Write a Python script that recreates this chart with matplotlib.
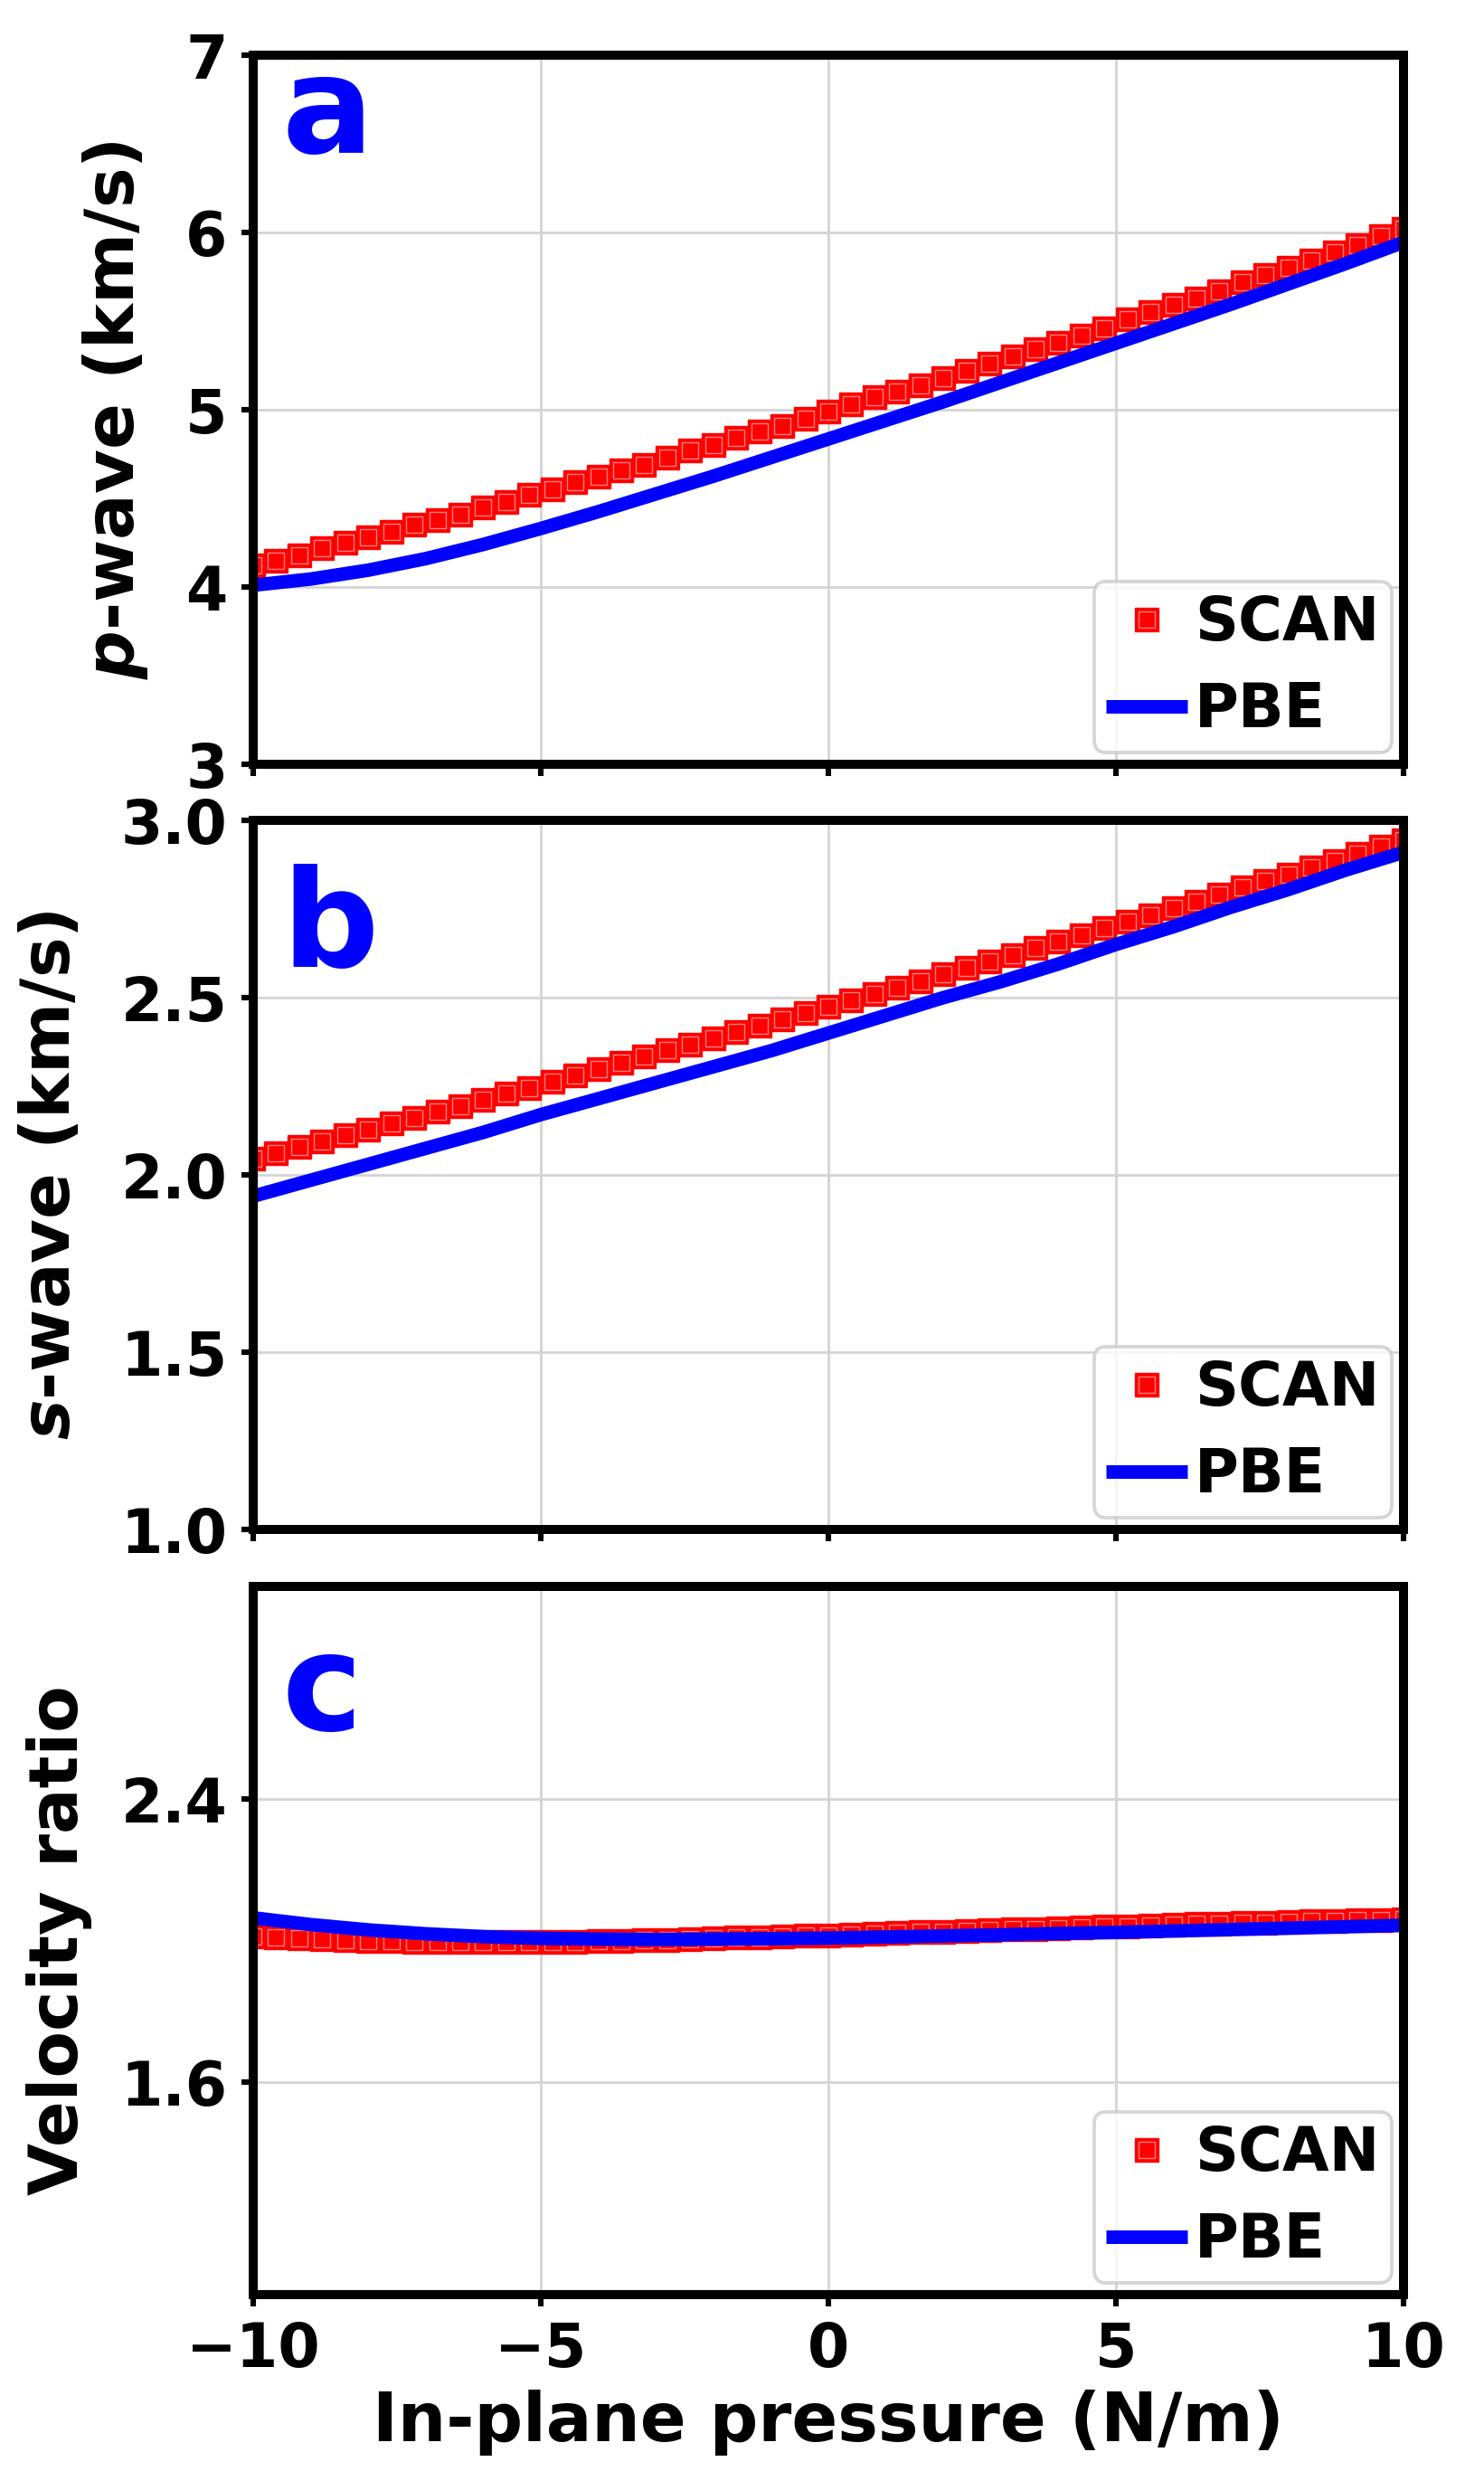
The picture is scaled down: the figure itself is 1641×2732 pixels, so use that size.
import matplotlib
matplotlib.use("Agg")
import matplotlib.pyplot as plt

plt.rcParams['font.family'] = ['DejaVu Sans']
plt.rcParams['font.weight'] = 'bold'
plt.rcParams['mathtext.fontset'] = 'custom'
plt.rcParams['mathtext.it'] = 'DejaVu Sans:bold:italic'
plt.rcParams['mathtext.rm'] = 'DejaVu Sans:bold'

# ---------------- data ----------------
pressure_scan = [-10.0, -9.6, -9.2, -8.8, -8.4, -8.0, -7.6, -7.2, -6.8, -6.4,
                 -6.0, -5.6, -5.2, -4.8, -4.4, -4.0, -3.6, -3.2, -2.8, -2.4,
                 -2.0, -1.6, -1.2, -0.8, -0.4, 0.0, 0.4, 0.8, 1.2, 1.6,
                 2.0, 2.4, 2.8, 3.2, 3.6, 4.0, 4.4, 4.8, 5.2, 5.6,
                 6.0, 6.4, 6.8, 7.2, 7.6, 8.0, 8.4, 8.8, 9.2, 9.6, 10.0]

pwave_scan = [4.12, 4.15, 4.18, 4.22, 4.25, 4.28, 4.31, 4.35, 4.38, 4.41,
              4.45, 4.48, 4.52, 4.55, 4.59, 4.62, 4.66, 4.69, 4.73, 4.77,
              4.80, 4.84, 4.88, 4.91, 4.95, 4.99, 5.03, 5.07, 5.10, 5.14,
              5.18, 5.22, 5.26, 5.30, 5.34, 5.38, 5.42, 5.46, 5.51, 5.55,
              5.59, 5.63, 5.67, 5.72, 5.76, 5.80, 5.84, 5.89, 5.93, 5.98, 6.02]

swave_scan = [2.045, 2.061, 2.078, 2.095, 2.111, 2.128, 2.145, 2.161, 2.178, 2.195,
              2.212, 2.229, 2.246, 2.264, 2.281, 2.298, 2.316, 2.333, 2.351, 2.368,
              2.386, 2.404, 2.421, 2.439, 2.457, 2.475, 2.493, 2.511, 2.529, 2.547,
              2.566, 2.584, 2.603, 2.621, 2.640, 2.658, 2.677, 2.696, 2.715, 2.733,
              2.752, 2.771, 2.790, 2.810, 2.829, 2.848, 2.867, 2.886, 2.906, 2.925, 2.945]

ratio_scan = [2.012, 2.009, 2.006, 2.004, 2.002, 2.000, 1.998, 1.997, 1.996, 1.995,
              1.995, 1.995, 1.995, 1.996, 1.997, 1.998, 1.999, 2.001, 2.002, 2.004,
              2.006, 2.008, 2.009, 2.011, 2.013, 2.015, 2.017, 2.019, 2.021, 2.023,
              2.025, 2.027, 2.029, 2.031, 2.033, 2.035, 2.037, 2.039, 2.040, 2.042,
              2.044, 2.046, 2.047, 2.049, 2.051, 2.052, 2.054, 2.055, 2.057, 2.058, 2.060]

pressure_pbe = [-10, -9, -8, -7, -6, -5, -4, -3, -2, -1, 0,
                1, 2, 3, 4, 5, 6, 7, 8, 9, 10]

pwave_pbe = [4.01, 4.045, 4.095, 4.16, 4.24, 4.33, 4.425, 4.525, 4.625, 4.73, 4.835,
             4.94, 5.045, 5.155, 5.265, 5.375, 5.485, 5.595, 5.71, 5.825, 5.945]

swave_pbe = [1.94, 1.985, 2.03, 2.075, 2.12, 2.17, 2.215, 2.26, 2.305, 2.35, 2.40,
             2.45, 2.50, 2.545, 2.595, 2.65, 2.70, 2.755, 2.805, 2.86, 2.91]

ratio_pbe = [2.064, 2.045, 2.030, 2.019, 2.011, 2.006, 2.004, 2.003, 2.004, 2.005, 2.007,
             2.010, 2.013, 2.016, 2.020, 2.023, 2.027, 2.031, 2.035, 2.039, 2.043]

panel_letters = ['a', 'b', 'c']
ylabels = ['$p$-wave (km/s)', '$s$-wave (km/s)', 'Velocity ratio']
yticks = [[3, 4, 5, 6, 7], [1.0, 1.5, 2.0, 2.5, 3.0], [1.6, 2.4]]
yticklabels = [['3', '4', '5', '6', '7'], ['1.0', '1.5', '2.0', '2.5', '3.0'], ['1.6', '2.4']]
ylims = [(3, 7), (1.0, 3.0), (1.0, 3.0)]
xticks = [-10, -5, 0, 5, 10]
xlabel = 'In-plane pressure (N/m)'
legend_labels = ['SCAN', 'PBE']

scan_series = [pwave_scan, swave_scan, ratio_scan]
pbe_series = [pwave_pbe, swave_pbe, ratio_pbe]

# ---------------- figure ----------------
W, H, DPI = 1641, 2732, 200
fig = plt.figure(figsize=(W / DPI, H / DPI), dpi=DPI)

left = 280 / W
width = (1552 - 280) / W
panel_px = [(61, 845), (907, 1691), (1754, 2537)]
ylabel_x = [-0.090, -0.147, -0.140]
letter_y = [0.862, 0.793, 0.797]

for i in range(3):
    top, bot = panel_px[i]
    ax = fig.add_axes([left, 1 - bot / H, width, (bot - top) / H])
    h1, = ax.plot(pressure_scan, scan_series[i], linestyle='none', marker='s',
                  markersize=9.4, markerfacecolor='#ff0000', markeredgecolor='#ff0000',
                  markeredgewidth=0.5, zorder=3)
    h2, = ax.plot(pressure_scan, scan_series[i], linestyle='none', marker='s',
                  markersize=6.6, markerfacecolor='none', markeredgecolor='#ff8080',
                  markeredgewidth=0.5, zorder=3.1)
    h3, = ax.plot(pressure_pbe, pbe_series[i], color='#0000ff', linewidth=5.4,
                  solid_capstyle='butt', solid_joinstyle='round', zorder=4)
    ax.set_xlim(-10, 10)
    ax.set_ylim(*ylims[i])
    ax.set_xticks(xticks)
    ax.set_yticks(yticks[i])
    ax.set_yticklabels(yticklabels[i])
    ax.grid(True, color='#d4d4d4', linewidth=1.0, zorder=0)
    ax.set_axisbelow(True)
    for sp in ax.spines.values():
        sp.set_linewidth(3.6)
        sp.set_zorder(5)
    ax.tick_params(axis='both', direction='out', length=4.7, width=2.2,
                   labelsize=24, pad=5.5)
    for lab in ax.get_xticklabels() + ax.get_yticklabels():
        lab.set_fontweight('bold')
    if i < 2:
        ax.tick_params(axis='x', labelbottom=False)
    else:
        ax.set_xlabel(xlabel, fontsize=27, fontweight='bold', labelpad=4)
    ax.set_ylabel(ylabels[i], fontsize=27, fontweight='bold')
    ax.yaxis.set_label_coords(ylabel_x[i], 0.5)
    ax.text(0.025, letter_y[i], panel_letters[i], transform=ax.transAxes,
            color='#0000ff', fontsize=54, fontweight='bold', ha='left', va='baseline')
    leg = ax.legend([(h1, h2), h3], legend_labels, loc='lower right',
                    prop={'size': 24, 'weight': 'bold'}, numpoints=1,
                    handlelength=1.35, handletextpad=0.12, borderpad=0.2,
                    labelspacing=0.45, borderaxespad=0.2, framealpha=0.8,
                    edgecolor='0.8', fancybox=True)
    leg.get_frame().set_linewidth(1.4)

fig.savefig('out.png', dpi=DPI)
